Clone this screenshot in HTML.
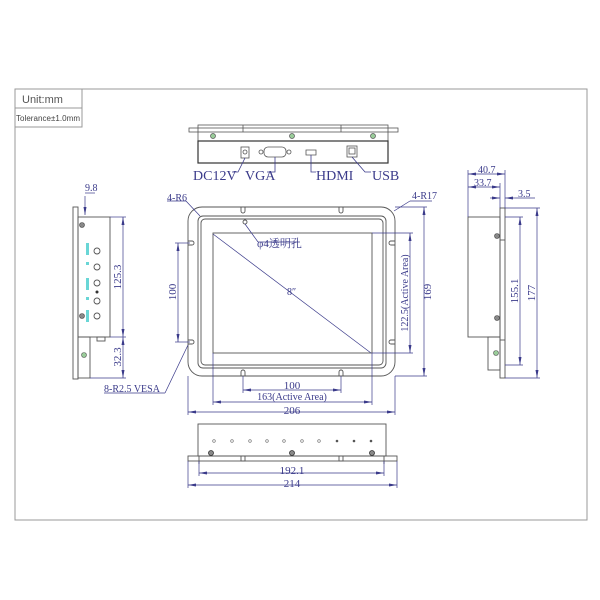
<!DOCTYPE html>
<html><head><meta charset="utf-8"><style>
html,body{margin:0;padding:0;background:#fff;}
svg{display:block}
text{font-family:"Liberation Serif","Noto Serif CJK SC",serif;fill:#3a3a8a;}
</style></head><body>
<svg width="600" height="600" viewBox="0 0 600 600" xmlns="http://www.w3.org/2000/svg">
<defs>
<marker id="a" markerWidth="8" markerHeight="6" refX="8" refY="3" orient="auto-start-reverse" markerUnits="userSpaceOnUse"><path d="M0,1.5 L8,3 L0,4.5z" fill="#3a3a8a"/></marker>
</defs>
<!-- frame -->
<rect x="15" y="89" width="572" height="431" fill="none" stroke="#999" stroke-width="1"/>
<rect x="15" y="89" width="67" height="19" fill="none" stroke="#999"/>
<rect x="15" y="108" width="67" height="19" fill="none" stroke="#999"/>
<text x="22" y="103" font-family="Liberation Sans" style="font-family:'Liberation Sans',sans-serif;fill:#555" font-size="11">Unit:mm</text>
<text x="16" y="121" style="font-family:'Liberation Sans',sans-serif;fill:#444" font-size="8" textLength="64">Tolerance±1.0mm</text>

<g stroke="#555" fill="none" stroke-width="0.8">
<!-- top view -->
<rect x="189" y="128" width="209" height="4"/>
<rect x="198" y="125" width="190" height="16"/>
<rect x="198" y="141" width="190" height="22" stroke="#333" stroke-width="1.2"/>
<line x1="243" y1="125" x2="243" y2="132"/><line x1="341" y1="125" x2="341" y2="132"/>
<rect x="241" y="147" width="8" height="11"/><circle cx="245" cy="152" r="2"/>
<rect x="264" y="147" width="22" height="10" rx="4"/>
<circle cx="261" cy="152" r="2"/><circle cx="289" cy="152" r="2"/>
<path d="M306,150 h10 v5 h-10z"/>
<rect x="347" y="146" width="10" height="11"/><rect x="349" y="148" width="6" height="6"/>
</g>
<g fill="#9c9" stroke="#555" stroke-width="0.7">
<circle cx="213" cy="136" r="2.5"/><circle cx="292" cy="136" r="2.5"/><circle cx="373" cy="136" r="2.5"/>
</g>
<g stroke="#3a3a8a" fill="none" stroke-width="0.8">
<path d="M245,158 L238,172 H232"/><path d="M275,157 V172 H267"/><path d="M311,155 V172 H316"/><path d="M352,157 L365,172 H371"/>
</g>
<text x="193" y="180" font-size="14">DC12V</text>
<text x="245" y="180" font-size="14">VGA</text>
<text x="316" y="180" font-size="14">HDMI</text>
<text x="372" y="180" font-size="14">USB</text>

<!-- front view -->
<g stroke="#555" fill="none" stroke-width="0.9">
<rect x="188" y="207" width="207" height="169" rx="14"/>
<rect x="198" y="216" width="188" height="152" rx="5"/>
<rect x="201" y="219" width="182" height="146" rx="4"/>
<rect x="213" y="233" width="159" height="120"/>
<circle cx="245" cy="222" r="2"/>
<path d="M241,207 v4 a2,2 0 0 0 4,0 v-4"/><path d="M339,207 v4 a2,2 0 0 0 4,0 v-4"/>
<path d="M241,376 v-4 a2,2 0 0 1 4,0 v4"/><path d="M339,376 v-4 a2,2 0 0 1 4,0 v4"/>
<path d="M188,241 h4 a2,2 0 0 1 0,4 h-4"/><path d="M188,340 h4 a2,2 0 0 1 0,4 h-4"/>
<path d="M395,241 h-4 a2,2 0 0 0 0,4 h4"/><path d="M395,340 h-4 a2,2 0 0 0 0,4 h4"/>
</g>
<g stroke="#3a3a8a" fill="none" stroke-width="0.7">
<line x1="213" y1="234" x2="371" y2="353"/>
<line x1="245" y1="224" x2="258" y2="242"/><line x1="258" y1="242" x2="300" y2="242"/>
<line x1="167" y1="201" x2="186" y2="201"/><line x1="186" y1="201" x2="200" y2="216"/>
<line x1="410" y1="201" x2="432" y2="201"/><line x1="410" y1="201" x2="394" y2="211"/>
<line x1="104" y1="393" x2="165" y2="393"/><line x1="165" y1="393" x2="188" y2="345"/>
<!-- dims -->
<line x1="243" y1="376" x2="243" y2="393"/><line x1="341" y1="376" x2="341" y2="393"/>
<line x1="243" y1="390" x2="341" y2="390" marker-start="url(#a)" marker-end="url(#a)"/>
<line x1="213" y1="353" x2="213" y2="405"/><line x1="372" y1="353" x2="372" y2="405"/>
<line x1="213" y1="402" x2="372" y2="402" marker-start="url(#a)" marker-end="url(#a)"/>
<line x1="188" y1="376" x2="188" y2="415"/><line x1="395" y1="376" x2="395" y2="415"/>
<line x1="188" y1="412" x2="395" y2="412" marker-start="url(#a)" marker-end="url(#a)"/>
<line x1="175" y1="243" x2="190" y2="243"/><line x1="175" y1="342" x2="190" y2="342"/>
<line x1="178" y1="243" x2="178" y2="342" marker-start="url(#a)" marker-end="url(#a)"/>
<line x1="372" y1="233" x2="413" y2="233"/><line x1="372" y1="353" x2="413" y2="353"/>
<line x1="410" y1="233" x2="410" y2="353" marker-start="url(#a)" marker-end="url(#a)"/>
<line x1="395" y1="207" x2="427" y2="207"/><line x1="395" y1="376" x2="427" y2="376"/>
<line x1="424" y1="207" x2="424" y2="376" marker-start="url(#a)" marker-end="url(#a)"/>
</g>
<text x="257" y="247" font-size="11">φ4透明孔</text>
<text x="287" y="295" font-size="10">8″</text>
<text x="167" y="201" font-size="10">4-R6</text>
<text x="412" y="199" font-size="10">4-R17</text>
<text x="104" y="392" font-size="10">8-R2.5 VESA</text>
<text x="292" y="389" font-size="11" text-anchor="middle">100</text>
<text x="292" y="400" font-size="10" text-anchor="middle">163(Active Area)</text>
<text x="292" y="414" font-size="11" text-anchor="middle">206</text>
<text transform="translate(176,292) rotate(-90)" font-size="11" text-anchor="middle">100</text>
<text transform="translate(408,293) rotate(-90)" font-size="10" text-anchor="middle">122.5(Active Area)</text>
<text transform="translate(431,292) rotate(-90)" font-size="11" text-anchor="middle">169</text>

<!-- left side view -->
<g stroke="#555" fill="none" stroke-width="0.9">
<rect x="73" y="207" width="5" height="172"/>
<rect x="78" y="217" width="32" height="120"/>
<rect x="78" y="337" width="12" height="41"/>
<rect x="97" y="337" width="8" height="4"/>
<circle cx="97" cy="251" r="3"/><circle cx="97" cy="267" r="3"/><circle cx="97" cy="283" r="3"/><circle cx="97" cy="301" r="3"/><circle cx="97" cy="316" r="3"/>
</g>
<circle cx="97" cy="292" r="1.5" fill="#333"/>
<circle cx="82" cy="225" r="2.5" fill="#888" stroke="#444" stroke-width="0.6"/><circle cx="82" cy="316" r="2.5" fill="#888" stroke="#444" stroke-width="0.6"/>
<circle cx="84" cy="355" r="2.5" fill="#9c9" stroke="#555" stroke-width="0.6"/>
<g fill="#4cc" opacity="0.8"><rect x="86" y="243" width="3" height="12"/><rect x="86" y="262" width="3" height="3"/><rect x="86" y="278" width="3" height="12"/><rect x="86" y="297" width="3" height="3"/><rect x="86" y="310" width="3" height="12"/></g>
<g stroke="#3a3a8a" fill="none" stroke-width="0.7">
<line x1="110" y1="217" x2="126" y2="217"/><line x1="110" y1="337" x2="126" y2="337"/><line x1="90" y1="378" x2="126" y2="378"/>
<line x1="123" y1="217" x2="123" y2="337" marker-start="url(#a)" marker-end="url(#a)"/>
<line x1="123" y1="337" x2="123" y2="378" marker-start="url(#a)" marker-end="url(#a)"/>
<line x1="85" y1="196" x2="85" y2="215" marker-end="url(#a)"/><line x1="85" y1="193" x2="95" y2="193"/>
</g>
<text x="85" y="191" font-size="10">9.8</text>
<text transform="translate(121,277) rotate(-90)" font-size="11" text-anchor="middle">125.3</text>
<text transform="translate(121,357) rotate(-90)" font-size="11" text-anchor="middle">32.3</text>

<!-- right side view -->
<g stroke="#555" fill="none" stroke-width="0.9">
<rect x="468" y="217" width="32" height="120"/>
<rect x="500" y="208" width="5" height="170"/>
<rect x="488" y="337" width="12" height="33"/>
<line x1="500" y1="240" x2="505" y2="240"/><line x1="500" y1="340" x2="505" y2="340"/>
</g>
<circle cx="497" cy="236" r="2.5" fill="#888" stroke="#444" stroke-width="0.6"/><circle cx="497" cy="318" r="2.5" fill="#888" stroke="#444" stroke-width="0.6"/>
<circle cx="496" cy="353" r="2.5" fill="#9c9" stroke="#555" stroke-width="0.6"/>
<g stroke="#3a3a8a" fill="none" stroke-width="0.7">
<line x1="468" y1="170" x2="468" y2="217"/><line x1="505" y1="170" x2="505" y2="208"/><line x1="500" y1="183" x2="500" y2="208"/>
<line x1="468" y1="174" x2="505" y2="174" marker-start="url(#a)" marker-end="url(#a)"/>
<line x1="468" y1="187" x2="500" y2="187" marker-start="url(#a)" marker-end="url(#a)"/>
<line x1="490" y1="198" x2="500" y2="198" marker-end="url(#a)"/><line x1="515" y1="198" x2="505" y2="198" marker-end="url(#a)"/><line x1="515" y1="198" x2="535" y2="198"/>
<line x1="505" y1="217" x2="523" y2="217"/><line x1="505" y1="365" x2="523" y2="365"/>
<line x1="520" y1="217" x2="520" y2="365" marker-start="url(#a)" marker-end="url(#a)"/>
<line x1="505" y1="208" x2="540" y2="208"/><line x1="505" y1="378" x2="540" y2="378"/>
<line x1="537" y1="208" x2="537" y2="378" marker-start="url(#a)" marker-end="url(#a)"/>
</g>
<text x="478" y="173" font-size="10">40.7</text>
<text x="474" y="186" font-size="10">33.7</text>
<text x="518" y="197" font-size="10">3.5</text>
<text transform="translate(518,291) rotate(-90)" font-size="11" text-anchor="middle">155.1</text>
<text transform="translate(535,293) rotate(-90)" font-size="11" text-anchor="middle">177</text>

<!-- bottom view -->
<g stroke="#555" fill="none" stroke-width="0.9">
<rect x="198" y="424" width="188" height="32"/>
<rect x="188" y="456" width="209" height="5"/>
<line x1="199" y1="456" x2="199" y2="464"/><line x1="384" y1="456" x2="384" y2="464"/>
<rect x="241" y="456" width="4" height="5"/><rect x="339" y="456" width="4" height="5"/>
</g>
<g fill="none" stroke="#666" stroke-width="0.6">
<circle cx="214" cy="441" r="1.3"/><circle cx="232" cy="441" r="1.3"/><circle cx="250" cy="441" r="1.3"/><circle cx="267" cy="441" r="1.3"/><circle cx="284" cy="441" r="1.3"/><circle cx="302" cy="441" r="1.3"/><circle cx="319" cy="441" r="1.3"/>
</g>
<g fill="#555"><circle cx="337" cy="441" r="1.3"/><circle cx="354" cy="441" r="1.3"/><circle cx="371" cy="441" r="1.3"/></g>
<g fill="#888" stroke="#333" stroke-width="0.8"><circle cx="211" cy="453" r="2.5"/><circle cx="292" cy="453" r="2.5"/><circle cx="372" cy="453" r="2.5"/></g>
<g stroke="#3a3a8a" fill="none" stroke-width="0.7">
<line x1="199" y1="461" x2="199" y2="476"/><line x1="384" y1="461" x2="384" y2="476"/>
<line x1="199" y1="473" x2="384" y2="473" marker-start="url(#a)" marker-end="url(#a)"/>
<line x1="188" y1="461" x2="188" y2="488"/><line x1="397" y1="461" x2="397" y2="488"/>
<line x1="188" y1="485" x2="397" y2="485" marker-start="url(#a)" marker-end="url(#a)"/>
</g>
<text x="292" y="474" font-size="11" text-anchor="middle">192.1</text>
<text x="292" y="487" font-size="11" text-anchor="middle">214</text>
</svg>
</body></html>
